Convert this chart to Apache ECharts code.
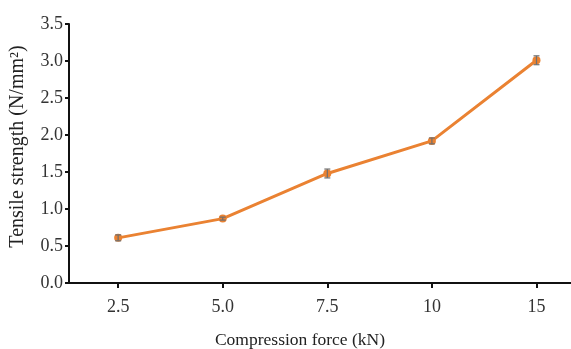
<!DOCTYPE html>
<html><head><meta charset="utf-8">
<script src="https://cdn.jsdelivr.net/npm/echarts@6/dist/echarts.min.js"></script>
<style>html,body{margin:0;padding:0;background:#fff}#c{width:571px;height:349px}</style>
</head><body><div id="c"></div>
<script>
const categories = ['2.5', '5.0', '7.5', '10', '15'];
const values = [0.61, 0.87, 1.48, 1.92, 3.01];
const errors = [0.04, 0.02, 0.06, 0.04, 0.06];
const yTicks = [0, 0.5, 1, 1.5, 2, 2.5, 3, 3.5];

const positions = categories.map((c, i) => i);
const lineData = values.map((v, i) => [positions[i], v]);
const errData = values.map((v, i) => [positions[i], v - errors[i], v + errors[i]]);
const FONT = 'Liberation Serif';

const chart = echarts.init(document.getElementById('c'));
chart.setOption({
  animation: false,
  grid: {left: 69, right: 0, top: 24, bottom: 66, containLabel: false, outerBoundsMode: 'none'},
  xAxis: {
    type: 'value', min: -0.47, max: 4.33,
    name: 'Compression force (kN)', nameLocation: 'middle', nameGap: 48,
    nameTextStyle: {fontFamily: FONT, fontSize: 17.5, color: '#222', padding: [0, 40, 0, 0]},
    axisLine: {onZero: false, lineStyle: {color: '#111', width: 2}},
    axisTick: {show: true, customValues: positions, length: 5, lineStyle: {color: '#111', width: 2}},
    axisLabel: {customValues: positions, formatter: v => categories[Math.round(v)], fontFamily: FONT, fontSize: 18, color: '#333', margin: 15},
    splitLine: {show: false}
  },
  yAxis: {
    type: 'value', min: 0, max: 3.5, interval: 0.5,
    name: 'Tensile strength (N/mm²)', nameLocation: 'middle', nameGap: 41,
    nameTextStyle: {fontFamily: FONT, fontSize: 20, color: '#222', padding: [0, 0, 0, 14]},
    axisLine: {show: true, onZero: false, lineStyle: {color: '#111', width: 2}},
    axisTick: {show: true, length: 4, lineStyle: {color: '#111', width: 2}},
    axisLabel: {formatter: v => yTicks.includes(v) ? v.toFixed(1) : '', fontFamily: FONT, fontSize: 18, color: '#333', margin: 6},
    splitLine: {show: false}
  },
  series: [
    {
      type: 'line', data: lineData, symbol: 'circle', symbolSize: 8,
      lineStyle: {color: '#EA8232', width: 3},
      itemStyle: {color: '#EA8232'}, z: 2
    },
    {
      type: 'custom', data: errData, z: 3,
      renderItem: (params, api) => {
        const x = api.value(0);
        const lo = api.coord([x, api.value(1)]);
        const hi = api.coord([x, api.value(2)]);
        const w = 3;
        const style = {stroke: '#6f6f6f', lineWidth: 1.2};
        return {type: 'group', children: [
          {type: 'line', shape: {x1: lo[0], y1: lo[1], x2: hi[0], y2: hi[1]}, style},
          {type: 'line', shape: {x1: lo[0]-w, y1: lo[1], x2: lo[0]+w, y2: lo[1]}, style},
          {type: 'line', shape: {x1: hi[0]-w, y1: hi[1], x2: hi[0]+w, y2: hi[1]}, style}
        ]};
      }
    }
  ]
});
</script></body></html>
